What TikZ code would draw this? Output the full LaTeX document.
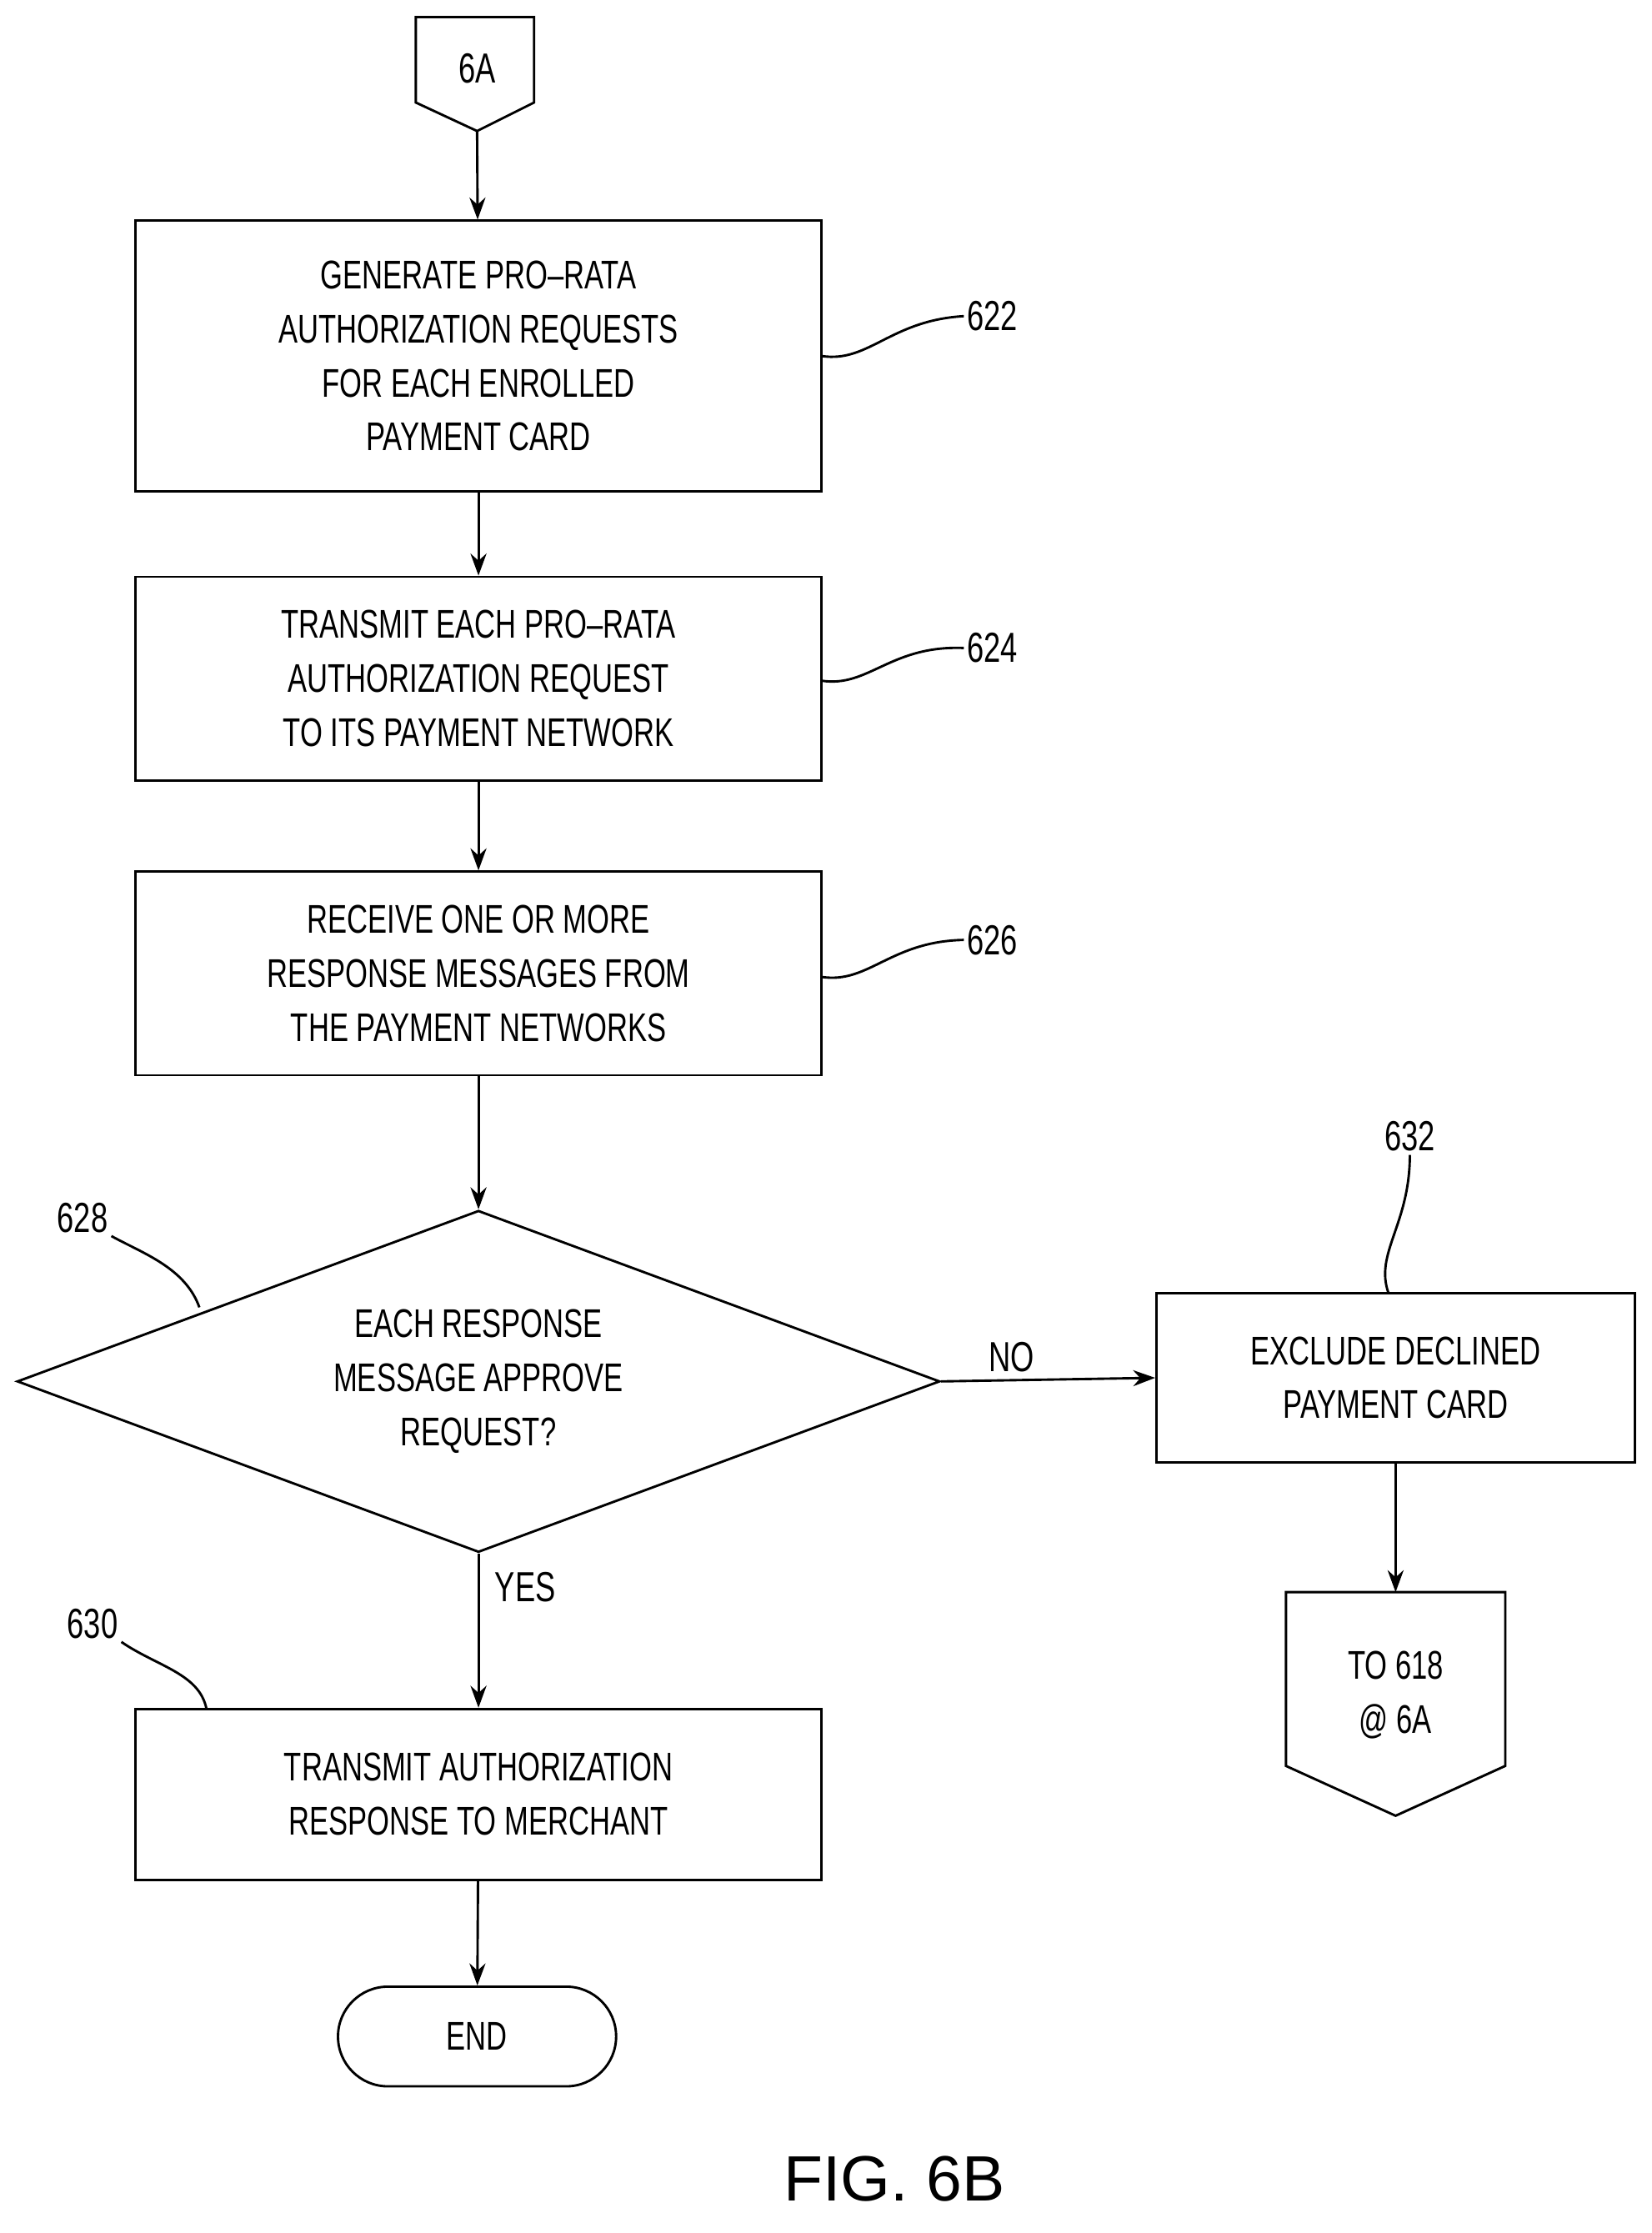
\documentclass[tikz,border=0pt]{standalone}
\usepackage{fontspec}
\setmainfont{Liberation Sans}[FakeStretch=0.72]
\newfontfamily\figfont{Liberation Sans}
\usetikzlibrary{shapes.geometric,shapes.misc,arrows.meta,positioning}
\tikzset{
  box/.style={draw,line width=2.4pt,minimum width=24.1cm,align=center,
    font=\fontsize{40}{54}\selectfont},
  flow/.style={line width=2.4pt,-{Stealth[length=22pt,width=16pt]}},
  lbl/.style={font=\fontsize{42}{50}\selectfont},
  lead/.style={line width=2.4pt}
}
\begin{document}
\begin{tikzpicture}[x=0.05cm,y=-0.05cm]
\useasboundingbox (0,0) rectangle (1160,1568);
% off-page connector in
\draw[line width=2.4pt] (292,12) -- (375,12) -- (375,72) -- (335,92) -- (292,72) -- cycle;
\coordinate (inbot) at (335,92);
\node[lbl] (in) at (335,48) {6A};
% process boxes
\node[box,minimum height=9.5cm] (b622) at (336,250) {GENERATE PRO--RATA\\AUTHORIZATION REQUESTS\\FOR EACH ENROLLED\\PAYMENT CARD};
\node[box,minimum height=7.15cm] (b624) at (336,476.5) {TRANSMIT EACH PRO--RATA\\AUTHORIZATION REQUEST\\TO ITS PAYMENT NETWORK};
\node[box,minimum height=7.15cm] (b626) at (336,683.5) {RECEIVE ONE OR MORE\\RESPONSE MESSAGES FROM\\THE PAYMENT NETWORKS};
\node[draw,line width=2.4pt,diamond,aspect=2.7,inner sep=0pt,minimum width=32.4cm,minimum height=12cm,
  align=center,font=\fontsize{40}{54}\selectfont] (d628) at (336,970) {EACH RESPONSE\\MESSAGE APPROVE\\REQUEST?};
\node[box,minimum width=16.8cm,minimum height=5.95cm] (b632) at (980,967.5) {EXCLUDE DECLINED\\PAYMENT CARD};
\node[box,minimum height=6cm] (b630) at (336,1260) {TRANSMIT AUTHORIZATION\\RESPONSE TO MERCHANT};
\node[draw,line width=2.4pt,rounded rectangle,minimum width=10cm,minimum height=3.5cm,
  font=\fontsize{40}{54}\selectfont] (end) at (335,1430) {END};
% off-page connector out
\draw[line width=2.4pt] (903,1118) -- (1057,1118) -- (1057,1240) -- (980,1275) -- (903,1240) -- cycle;
\node[box,draw=none,minimum width=0pt] (out) at (980,1190) {TO 618\\@ 6A};
\coordinate (outtop) at (980,1118);
% connectors
\draw[flow] (inbot) -- (b622);
\draw[flow] (b622) -- (b624);
\draw[flow] (b624) -- (b626);
\draw[flow] (b626) -- (d628);
\draw[flow] (d628.east) -- node[lbl,above=4pt,pos=0.33]{NO} (b632.west);
\draw[flow] (d628.south) -- node[lbl,right=12pt,pos=0.22]{YES} (b630.north);
\draw[flow] (b632.south) -- (outtop);
\draw[flow] (b630) -- (end);
% reference numerals
\node[lbl] (n622) at (697,222) {622};
\node[lbl] (n624) at (697,455) {624};
\node[lbl] (n626) at (697,660) {626};
\node[lbl] (n628) at (58,855) {628};
\node[lbl] (n632) at (990,798) {632};
\node[lbl] (n630) at (65,1140) {630};
\draw[lead] (577,250) .. controls (610,255) and (625,225) .. (n622.west);
\draw[lead] (577,478) .. controls (610,483) and (625,453) .. (n624.west);
\draw[lead] (577,686) .. controls (610,691) and (625,661) .. (n626.west);
\draw[lead] (n628.south east) .. controls (100,880) and (130,890) .. (140,918);
\draw[lead] (n632.south) .. controls (990,860) and (965,880) .. (975,908);
\draw[lead] (n630.south east) .. controls (110,1170) and (140,1175) .. (145,1200);
\node[font=\figfont\fontsize{64}{70}\selectfont] (fig) at (628,1530) {FIG. 6B};
\end{tikzpicture}
\end{document}
